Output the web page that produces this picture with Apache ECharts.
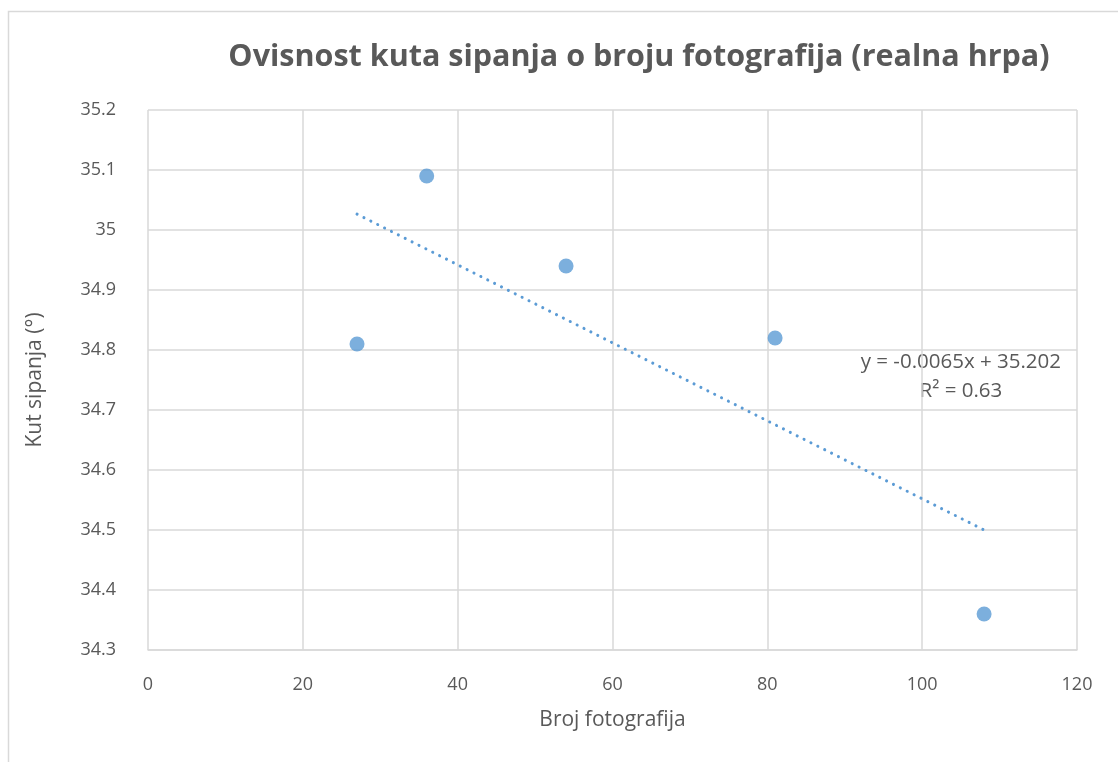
<!DOCTYPE html>
<html><head><meta charset="utf-8">
<script src="https://cdn.jsdelivr.net/npm/echarts@6/dist/echarts.min.js"></script>
<style>html,body{margin:0;padding:0;background:#fff}#c{width:1118px;height:762px}</style>
</head><body><div id="c"></div>
<script>
const photos = [27, 36, 54, 81, 108];
const angles = [34.81, 35.09, 34.94, 34.82, 34.36];
const trendX = [27, 108];
const trendY = [35.0265, 34.500];
const xTicks = [0, 20, 40, 60, 80, 100, 120];
const yTicks = [34.3, 34.4, 34.5, 34.6, 34.7, 34.8, 34.9, 35, 35.1, 35.2];
const titleText = 'Ovisnost kuta sipanja o broju fotografija (realna hrpa)';
const eqText = ['y = -0.0065x + 35.202', 'R² = 0.63'];

const chart = echarts.init(document.getElementById('c'));
const txt = '#595959', grid = '#d9d9d9', blue = '#5b9bd5';
const font = 'Open Sans';
chart.setOption({
  animation: false,
  textStyle: {fontFamily: font},
  title: {text: titleText, left: 634, top: 37, textAlign: 'center',
    textStyle: {fontFamily: font, fontWeight: 'bold', fontSize: 30.5, color: txt}},
  grid: {left: 148, right: 41, top: 110, bottom: 112},
  xAxis: {type: 'value', min: 0, max: 120, interval: 20,
    name: 'Broj fotografija', nameLocation: 'middle', nameGap: 60,
    nameTextStyle: {fontSize: 21, color: txt, fontFamily: font},
    axisLine: {show: true, lineStyle: {color: grid, width: 1.5}},
    axisTick: {show: false},
    axisLabel: {fontSize: 18, color: txt, margin: 26, fontFamily: font,
      formatter: v => { const t = xTicks.find(k => Math.abs(k - v) < 1e-6); return t === undefined ? '' : String(t); }},
    splitLine: {show: true, lineStyle: {color: grid, width: 1.5}}},
  yAxis: {type: 'value', min: 34.3, max: 35.2, interval: 0.1,
    name: 'Kut sipanja (°)', nameLocation: 'middle', nameGap: 102, nameRotate: 90,
    nameTextStyle: {fontSize: 21, color: txt, fontFamily: font},
    axisLine: {show: false}, axisTick: {show: false},
    axisLabel: {fontSize: 18, color: txt, margin: 32, fontFamily: font,
      formatter: v => { const t = yTicks.find(k => Math.abs(k - v) < 1e-6); return t === undefined ? '' : String(t); }},
    splitLine: {show: true, lineStyle: {color: grid, width: 1.5}}},
  graphic: [
    {type: 'polyline', shape: {points: [[8.5, 762], [8.5, 11.5], [1118, 11.5]]},
      style: {stroke: grid, lineWidth: 1.5, fill: null}, silent: true}
  ],
  series: [
    {type: 'line', data: trendX.map((x, i) => [x, trendY[i]]), symbol: 'none',
      lineStyle: {color: blue, width: 3, type: [0.1, 7.6], cap: 'round'}, z: 2},
    {type: 'scatter', data: photos.map((x, i) => [x, angles[i]]), symbol: 'circle', symbolSize: 15,
      itemStyle: {color: blue}, z: 3}
  ]
});
// equation label anchored at data coordinates of the chart
const p = chart.convertToPixel({gridIndex: 0}, [105, 34.756]);
chart.setOption({graphic: [{}, {type: 'text', x: p[0], y: p[1],
  style: {text: eqText.join('\n'), align: 'center', verticalAlign: 'middle', fontSize: 20.5, lineHeight: 29,
    fill: txt, fontFamily: font}}]});
</script></body></html>
